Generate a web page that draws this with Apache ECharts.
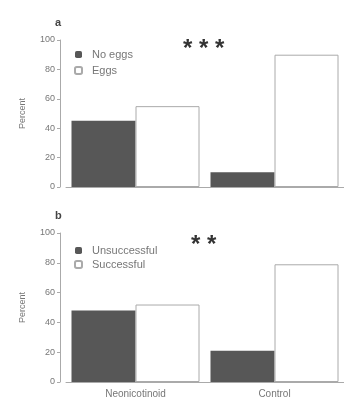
<!DOCTYPE html>
<html>
<head>
<meta charset="utf-8">
<script src="https://cdn.jsdelivr.net/npm/echarts@6/dist/echarts.min.js"></script>
<style>html,body{margin:0;padding:0;background:#fff}#c{width:344px;height:400px}</style>
</head>
<body>
<div id="c"></div>
<script>
var categories = ['Neonicotinoid', 'Control'];
var noEggs = [45, 10];
var eggs = [55, 90];
var unsuccessful = [48, 21];
var successful = [52, 79];
var yTicks = [0, 20, 40, 60, 80, 100];

var chart = echarts.init(document.getElementById('c'));
var font = 'Liberation Sans, Arial, sans-serif';
function yAxis(idx) {
  return {
    type: 'value', gridIndex: idx, min: 0, max: 100, interval: 20, offset: 6,
    name: 'Percent', nameLocation: 'middle', nameGap: 33,
    nameTextStyle: {fontSize: 9, color: '#777', fontFamily: font},
    axisLine: {show: true, lineStyle: {color: '#aaa', width: 1}},
    axisTick: {show: true, length: 3, lineStyle: {color: '#aaa'}},
    axisLabel: {fontSize: 9, color: '#777', margin: 5, fontFamily: font,
      formatter: function (v) { return yTicks.indexOf(v) >= 0 ? String(v) : ''; }},
    splitLine: {show: false}
  };
}
function xAxis(idx, showLabel) {
  return {
    type: 'category', gridIndex: idx, data: categories,
    axisLine: {show: true, lineStyle: {color: '#aaa', width: 1}},
    axisTick: {show: false},
    axisLabel: {show: showLabel, fontSize: 10, color: '#777', margin: 7, fontFamily: font}
  };
}
var darkStyle = {color: '#575757'};
var whiteStyle = {color: '#ffffff', borderColor: '#aaaaaa', borderWidth: 1};
var legendText = {fontSize: 11, color: '#777', fontFamily: font, padding: [0, 0, 0, 5]};
chart.setOption({
  animation: false,
  grid: [
    {left: 66, right: 0, top: 40, height: 147},
    {left: 66, right: 0, top: 233, height: 149}
  ],
  xAxis: [xAxis(0, false), xAxis(1, true)],
  yAxis: [yAxis(0), yAxis(1)],
  legend: [
    {data: ['No eggs', 'Eggs'], orient: 'vertical', left: 69, top: 44, itemWidth: 7, itemHeight: 7, itemGap: 5,
      textStyle: legendText},
    {data: ['Unsuccessful', 'Successful'], orient: 'vertical', left: 69, top: 240, itemWidth: 7, itemHeight: 7, itemGap: 3,
      textStyle: legendText}
  ],
  series: [
    {name: 'No eggs', type: 'bar', xAxisIndex: 0, yAxisIndex: 0, data: noEggs, barWidth: 64, barGap: '0%', itemStyle: darkStyle},
    {name: 'Eggs', type: 'bar', xAxisIndex: 0, yAxisIndex: 0, data: eggs, barWidth: 64, barGap: '0%', itemStyle: whiteStyle},
    {name: 'Unsuccessful', type: 'bar', xAxisIndex: 1, yAxisIndex: 1, data: unsuccessful, barWidth: 64, barGap: '0%', itemStyle: darkStyle},
    {name: 'Successful', type: 'bar', xAxisIndex: 1, yAxisIndex: 1, data: successful, barWidth: 64, barGap: '0%', itemStyle: whiteStyle}
  ],
  graphic: [
    {type: 'text', left: 55, top: 17, style: {text: 'a', fill: '#444', font: 'bold 11px ' + font}},
    {type: 'text', left: 55, top: 210, style: {text: 'b', fill: '#444', font: 'bold 11px ' + font}},
    {type: 'text', left: 183, top: 37, style: {text: '* * *', fill: '#333', font: 'bold 24px ' + font}},
    {type: 'text', left: 191, top: 233, style: {text: '* *', fill: '#333', font: 'bold 24px ' + font}}
  ]
});
</script>
</body>
</html>
